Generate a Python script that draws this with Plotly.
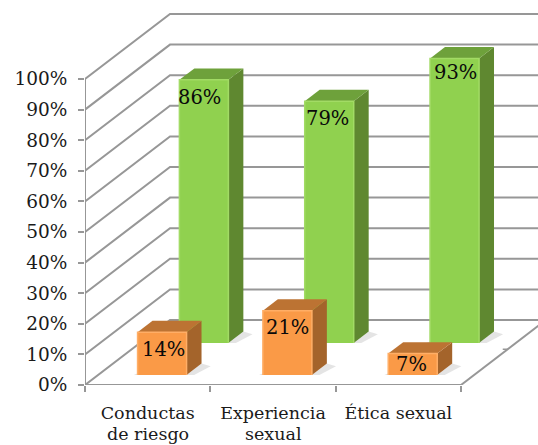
import plotly.graph_objects as go

categories = ["Conductas", "Experiencia", "Ética sexual"]
second_lines = ["de riesgo", "sexual", ""]
green_values = [86, 79, 93]
orange_values = [14, 21, 7]
y_ticks = list(range(0, 101, 10))
y_labels = [f"{v}%" for v in y_ticks]

# chart geometry (data units), oblique projection of the depth axis
PX_X = 125.33
PX_Y = 3.06
DEPTH_DX = 85 / PX_X
DEPTH_DY = 65 / PX_Y
BAR_LEFT = 0.315
BAR_W = 49 / PX_X
GREEN_D = (0.646, 0.822)
ORANGE_D = (0.154, 0.33)
XMAX = (538 - 85) / PX_X
YMAX = 385 / PX_Y
FONT = "DejaVu Serif"
GRID = "#979797"


def proj(x, y, d):
    return x + d * DEPTH_DX, y + d * DEPTH_DY


fig = go.Figure()


def poly(pts, color, line=None, width=0):
    xs = [p[0] for p in pts] + [pts[0][0]]
    ys = [p[1] for p in pts] + [pts[0][1]]
    fig.add_trace(go.Scatter(x=xs, y=ys, mode="lines", fill="toself", fillcolor=color,
                             line=dict(color=line or color, width=width), hoverinfo="skip", showlegend=False))


def seg(pts, color=GRID, width=2):
    fig.add_trace(go.Scatter(x=[p[0] for p in pts], y=[p[1] for p in pts], mode="lines",
                             line=dict(color=color, width=width), hoverinfo="skip", showlegend=False))


# gridlines on the side and back walls
for v in y_ticks:
    seg([proj(0, v, 0), proj(0, v, 1), proj(3, v, 1)])
# floor
seg([proj(3, 0, 0), proj(3, 0, 1)])
seg([proj(3, 0, 0.55), (proj(3, 0, 0.55)[0] - 5 / PX_X, proj(3, 0, 0.55)[1])], width=1.5)
# axis lines
seg([(0, 0), (3, 0)])
seg([(0, 0), (0, 100)])


def bar(i, v, depth, front, side, top, hi):
    x0 = i + BAR_LEFT
    x1 = x0 + BAR_W
    d0, d1 = depth
    # floor shadow
    poly([proj(x1, 0, d0), proj(x1 + 0.06, 0, d0), proj(x1 + 0.1, 0, d1 - 0.04), proj(x1, 0, d1)], "rgba(90,90,90,0.16)")
    poly([proj(x0 - 0.03, 0, d0), proj(x0, 0, d0), proj(x0, 0, d0 + 0.04), proj(x0 - 0.01, 0, d0 + 0.04)], "rgba(90,90,90,0.2)")
    poly([proj(x1, 0, d0), proj(x1, 0, d1), proj(x1, v, d1), proj(x1, v, d0)], side)
    poly([proj(x0, v, d0), proj(x1, v, d0), proj(x1, v, d1), proj(x0, v, d1)], top)
    poly([proj(x0, 0, d0), proj(x1, 0, d0), proj(x1, v, d0), proj(x0, v, d0)], front)
    seg([proj(x0, 0, d0), proj(x0, v, d0), proj(x1, v, d0), proj(x1, 0, d0)], hi, 1.5)


for i, v in enumerate(green_values):
    bar(i, v, GREEN_D, "#90D14F", "#5F8830", "#6EA13B", "#A2DB65")
for i, v in enumerate(orange_values):
    bar(i, v, ORANGE_D, "#FA9A47", "#A4642B", "#BC7333", "#FFAE66")

# data labels: offsets below the top of the front face, in (px, px)
label_off_green = [(-4, 18), (-2, 17), (1, 14)]
label_off_orange = [(1.5, 17), (0, 17), (-1, 11)]
for vals, depth, offs in ((green_values, GREEN_D, label_off_green), (orange_values, ORANGE_D, label_off_orange)):
    for i, v in enumerate(vals):
        cx, cy = proj(i + BAR_LEFT + BAR_W / 2, v, depth[0])
        fig.add_annotation(x=cx, y=cy, text=f"{v}%", showarrow=False, xshift=offs[i][0], yshift=-offs[i][1],
                           font=dict(family=FONT, size=19.5, color="#0a0a0a"))

# second lines of the category labels
for i, t in enumerate(second_lines):
    if t:
        fig.add_annotation(x=i + 0.5, y=0, text=t, showarrow=False, yshift=-49,
                           font=dict(family=FONT, size=17.5, color="#1a1a1a"))

fig.update_layout(
    width=538, height=445, autosize=False,
    margin=dict(l=85, r=0, t=0, b=60),
    paper_bgcolor="white", plot_bgcolor="white", showlegend=False,
    xaxis=dict(range=[0, XMAX], tickvals=[0.5, 1.5, 2.5], ticktext=categories, ticks="", showgrid=False,
               zeroline=False, showline=False, ticklabelstandoff=15,
               minor=dict(tickvals=[0, 1, 2, 3], ticks="outside", ticklen=6, tickwidth=2, tickcolor=GRID, showgrid=False),
               tickfont=dict(family=FONT, size=17.5, color="#1a1a1a")),
    yaxis=dict(range=[0, YMAX], tickvals=y_ticks, ticktext=y_labels, ticks="outside", ticklen=6, tickwidth=2,
               tickcolor=GRID, showgrid=False, zeroline=False, showline=False, ticklabelstandoff=7,
               tickfont=dict(family=FONT, size=18.5, color="#1a1a1a")),
)
fig.write_html("out.html", post_script="document.body.style.margin='0';document.body.style.overflow='hidden';",
               config={"displayModeBar": False})
